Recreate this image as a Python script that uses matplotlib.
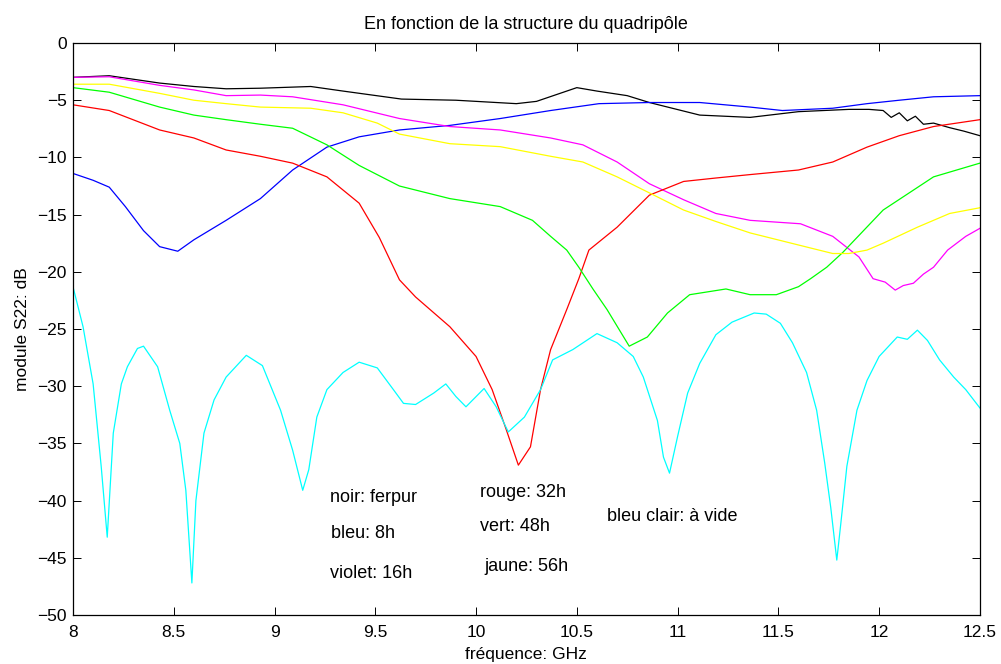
import matplotlib.pyplot as plt

plt.rcParams['font.family'] = ['Liberation Sans', 'DejaVu Sans']

# noir: ferpur
f_noir = [8.0, 8.18, 8.43, 8.6, 8.76, 8.93, 9.18, 9.34, 9.63, 9.9, 10.2, 10.3, 10.4, 10.5,
          10.6, 10.75, 10.86, 11.11, 11.36, 11.6, 11.85, 11.95, 12.02, 12.06, 12.1, 12.14,
          12.18, 12.22, 12.27, 12.35, 12.42, 12.5]
s_noir = [-3.0, -2.86, -3.5, -3.8, -4.0, -3.95, -3.8, -4.2, -4.9, -5.0, -5.3, -5.1, -4.5, -3.9,
          -4.2, -4.6, -5.2, -6.3, -6.5, -6.0, -5.8, -5.8, -5.9, -6.5, -6.1, -6.8,
          -6.4, -7.1, -7.0, -7.4, -7.7, -8.1]

# bleu: 8h
f_bleu = [8.0, 8.1, 8.18, 8.26, 8.35, 8.43, 8.52, 8.6, 8.76, 8.93, 9.09, 9.26, 9.42, 9.62,
          9.87, 10.12, 10.37, 10.61, 10.86, 11.11, 11.36, 11.52, 11.77, 11.94, 12.1, 12.27, 12.5]
s_bleu = [-11.4, -12.0, -12.6, -14.3, -16.4, -17.8, -18.2, -17.2, -15.5, -13.6, -11.1, -9.1, -8.2, -7.6,
          -7.2, -6.6, -5.9, -5.3, -5.2, -5.2, -5.6, -5.9, -5.7, -5.3, -5.0, -4.7, -4.6]

# violet: 16h
f_violet = [8.0, 8.18, 8.43, 8.6, 8.76, 8.93, 9.09, 9.34, 9.62, 9.87, 10.12, 10.37, 10.53, 10.7,
            10.86, 11.03, 11.19, 11.36, 11.61, 11.77, 11.9, 11.97, 12.03, 12.08, 12.12, 12.17,
            12.22, 12.27, 12.34, 12.43, 12.5]
s_violet = [-3.0, -2.95, -3.7, -4.1, -4.6, -4.55, -4.7, -5.4, -6.6, -7.3, -7.6, -8.3, -8.9, -10.4,
            -12.3, -13.7, -14.9, -15.5, -15.8, -16.9, -18.7, -20.6, -20.9, -21.6, -21.2, -21.0,
            -20.2, -19.6, -18.1, -16.9, -16.2]

# rouge: 32h
f_rouge = [8.0, 8.18, 8.43, 8.6, 8.76, 8.93, 9.09, 9.26, 9.42, 9.52, 9.62, 9.7, 9.87, 10.0,
           10.08, 10.15, 10.21, 10.27, 10.32, 10.37, 10.45, 10.51, 10.56, 10.7, 10.86, 11.03,
           11.19, 11.36, 11.6, 11.77, 11.94, 12.1, 12.27, 12.5]
s_rouge = [-5.4, -5.9, -7.6, -8.3, -9.35, -9.9, -10.5, -11.7, -14.0, -17.0, -20.7, -22.2, -24.8, -27.4,
           -30.3, -33.8, -36.9, -35.3, -30.3, -26.8, -23.3, -20.6, -18.1, -16.1, -13.3, -12.1,
           -11.8, -11.5, -11.1, -10.4, -9.1, -8.1, -7.3, -6.7]

# vert: 48h
f_vert = [8.0, 8.18, 8.43, 8.6, 8.76, 8.93, 9.09, 9.26, 9.42, 9.62, 9.87, 10.12, 10.28, 10.37,
          10.45, 10.51, 10.58, 10.65, 10.76, 10.85, 10.95, 11.06, 11.24, 11.36, 11.49, 11.6,
          11.66, 11.74, 11.82, 12.02, 12.27, 12.5]
s_vert = [-3.9, -4.3, -5.6, -6.3, -6.7, -7.1, -7.45, -8.9, -10.7, -12.5, -13.6, -14.3, -15.5, -16.9,
          -18.1, -19.6, -21.5, -23.3, -26.5, -25.7, -23.6, -22.0, -21.5, -22.0, -22.0, -21.3,
          -20.6, -19.6, -18.3, -14.6, -11.7, -10.5]

# jaune: 56h
f_jaune = [8.0, 8.18, 8.43, 8.6, 8.76, 8.93, 9.18, 9.34, 9.51, 9.62, 9.87, 10.12, 10.37, 10.53,
           10.7, 10.86, 11.03, 11.19, 11.36, 11.61, 11.77, 11.85, 11.94, 12.02, 12.19, 12.35, 12.5]
s_jaune = [-3.6, -3.6, -4.4, -5.0, -5.3, -5.6, -5.7, -6.1, -7.0, -7.96, -8.8, -9.06, -9.9, -10.4,
           -11.7, -13.1, -14.6, -15.6, -16.6, -17.7, -18.4, -18.4, -18.1, -17.5, -16.1, -14.9, -14.4]

# bleu clair: à vide
f_cyan = [8.0, 8.05, 8.1, 8.14, 8.17, 8.2, 8.24, 8.27, 8.32, 8.35, 8.42, 8.48, 8.53, 8.56,
          8.59, 8.61, 8.65, 8.7, 8.76, 8.86, 8.94, 9.03, 9.09, 9.14, 9.17, 9.21, 9.26, 9.34,
          9.42, 9.51, 9.59, 9.64, 9.7, 9.79, 9.85, 9.9, 9.95, 10.04, 10.1, 10.16, 10.24,
          10.32, 10.38, 10.48, 10.6, 10.7, 10.78, 10.83, 10.9, 10.93, 10.96, 11.0, 11.05,
          11.11, 11.19, 11.27, 11.38, 11.44, 11.51, 11.57, 11.64, 11.69, 11.73, 11.76, 11.79,
          11.81, 11.84, 11.89, 11.94, 12.0, 12.09, 12.14, 12.19, 12.24, 12.3, 12.37, 12.43, 12.5]
s_cyan = [-21.3, -24.8, -29.8, -37.0, -43.2, -34.1, -29.8, -28.3, -26.7, -26.5, -28.3, -32.1, -35.0, -39.1,
          -47.2, -40.0, -34.1, -31.2, -29.2, -27.3, -28.2, -32.1, -35.6, -39.1, -37.3, -32.7, -30.3, -28.8,
          -27.9, -28.4, -30.3, -31.5, -31.6, -30.6, -29.8, -30.9, -31.8, -30.2, -31.8, -34.0, -32.7,
          -30.3, -27.7, -26.8, -25.4, -26.2, -27.4, -29.2, -33.0, -36.2, -37.6, -34.4, -30.6,
          -28.0, -25.5, -24.4, -23.6, -23.7, -24.5, -26.2, -28.8, -32.1, -36.7, -40.6, -45.2,
          -42.0, -37.0, -32.1, -29.5, -27.4, -25.7, -25.9, -25.1, -26.0, -27.7, -29.2, -30.3, -31.9]

x_ticks = [8, 8.5, 9, 9.5, 10, 10.5, 11, 11.5, 12, 12.5]
y_ticks = list(range(-50, 1, 5))

fig = plt.figure(figsize=(10.01, 6.64), dpi=100, facecolor='white')
ax = fig.add_axes([0.0729, 0.0738, 0.906, 0.8614])

ax.plot(f_noir, s_noir, color='black', lw=0.9)
ax.plot(f_bleu, s_bleu, color='#0000ff', lw=0.9)
ax.plot(f_violet, s_violet, color='#ff00ff', lw=0.9)
ax.plot(f_rouge, s_rouge, color='#ff0000', lw=0.9)
ax.plot(f_vert, s_vert, color='#00ff00', lw=0.9)
ax.plot(f_jaune, s_jaune, color='#ffff00', lw=0.9)
ax.plot(f_cyan, s_cyan, color='#00ffff', lw=0.9)

ax.set_xlim(8, 12.5); ax.set_ylim(-50, 0)
ax.set_xticks(x_ticks); ax.set_xticklabels([f'{v:g}' for v in x_ticks])
ax.set_yticks(y_ticks)
ax.tick_params(direction='in', top=True, right=True, labelsize=12.5, length=6, width=0.7)
ax.tick_params(axis='x', pad=7)
ax.tick_params(axis='y', pad=4.5)
for sp in ax.spines.values():
    sp.set_linewidth(0.9)

ax.set_title('En fonction de la structure du quadripôle', fontsize=13, pad=10)
ax.set_xlabel('fréquence: GHz', fontsize=12.5, labelpad=5)
ax.set_ylabel('module S22: dB', fontsize=12.5, labelpad=5)

kw = dict(fontsize=13, va='center', ha='left')
ax.text(9.275, -39.7, 'noir: ferpur', **kw)
ax.text(9.28, -42.9, 'bleu: 8h', **kw)
ax.text(9.275, -46.4, 'violet: 16h', **kw)
ax.text(10.02, -39.3, 'rouge: 32h', **kw)
ax.text(10.02, -42.3, 'vert: 48h', **kw)
ax.text(10.04, -45.8, 'jaune: 56h', **kw)
ax.text(10.65, -41.4, 'bleu clair: à vide', **kw)

fig.savefig('out.png', dpi=100, facecolor='white')
